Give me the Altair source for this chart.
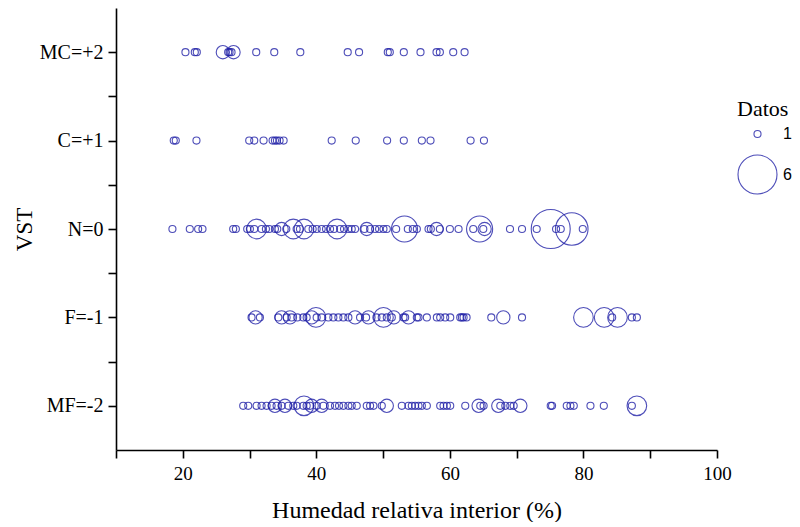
import altair as alt
import pandas as pd

# Category labels and their numeric codes on the y axis
categories = ["MC=+2", "C=+1", "N=0", "F=-1", "MF=-2"]
codes = [2, 1, 0, -1, -2]

# Humedad relativa interior (%) per VST class, and number of coincident data (bubble size)
mc_x = [20.4, 21.8, 22.1, 26.0, 26.8, 27.0, 27.3, 27.6, 31.0, 33.7, 37.6, 44.7, 46.4,
        50.7, 51.0, 53.1, 55.6, 58.0, 58.5, 60.5, 62.2]
mc_n = [1, 1, 1, 2, 1, 1, 1, 2, 1, 1, 1, 1, 1, 1, 1, 1, 1, 1, 1, 1, 1]

c_x = [18.65, 18.95, 22.05, 29.95, 30.7, 32.1, 33.45, 33.8, 34.1, 34.5, 35.1, 42.3,
       45.9, 50.6, 53.1, 55.8, 57.1, 63.1, 65.1]
c_n = [1] * 19

n_x = [18.45, 21.05, 22.3, 22.95, 27.55, 27.95, 29.65, 30.05, 30.7, 31.05, 31.8, 32.45,
       32.95, 33.8, 34.15, 34.8, 35.5, 36.55, 37.05, 37.55, 38.15, 38.8, 39.45, 40.05,
       40.8, 41.45, 42.05, 42.65, 43.1, 43.55, 44.15, 44.8, 45.3, 45.8, 47.2, 47.55,
       48.05, 48.8, 49.4, 50.05, 50.55, 51.95, 53.2, 53.7, 54.45, 55.05, 56.8, 57.15,
       58.0, 58.5, 60.0, 61.3, 63.5, 64.45, 65.0, 65.2, 69.0, 70.8, 73.0, 75.1, 75.9,
       76.6, 78.25, 79.9]
n_n = [1, 1, 1, 1, 1, 1, 1, 1, 1, 3, 1, 1,
       1, 1, 1, 2, 1, 3, 1, 1, 3, 1, 1, 1,
       1, 1, 1, 1, 3, 1, 1, 1, 1, 1, 1, 2,
       1, 1, 1, 1, 1, 1, 4, 1, 1, 1, 1, 1,
       2, 1, 1, 1, 1, 4, 1, 2, 1, 1, 1, 6, 1,
       1, 5, 1]

f_x = [30.3, 30.9, 31.55, 34.3, 34.8, 35.55, 36.05, 36.3, 37.15, 38.05, 38.55, 39.3,
       39.95, 40.05, 40.8, 41.8, 42.55, 43.3, 44.05, 44.8, 45.8, 46.55, 47.45, 47.8,
       49.0, 49.8, 50.05, 50.55, 51.3, 51.6, 53.05, 53.3, 53.8, 55.05, 55.3, 56.55,
       58.05, 58.55, 59.3, 60.05, 61.55, 61.8, 62.05, 62.5, 66.2, 68.0, 70.8, 80.0,
       83.1, 84.3, 85.1, 87.25, 88.0]
f_n = [1, 2, 1, 1, 2, 1, 2, 1, 1, 1, 1, 2,
       3, 1, 1, 1, 1, 1, 1, 1, 2, 1, 1, 2,
       1, 1, 3, 1, 1, 2, 1, 1, 2, 1, 1, 1,
       1, 1, 1, 1, 1, 1, 1, 1, 1, 2, 1, 3,
       3, 1, 3, 1, 1]

mf_x = [29.05, 29.8, 31.05, 31.8, 32.55, 33.3, 33.8, 34.05, 34.8, 35.3, 35.8, 36.55,
        37.05, 38.05, 38.15, 38.55, 39.05, 39.3, 40.05, 40.8, 41.05, 42.05, 42.8, 43.4,
        44.05, 44.8, 45.3, 46.05, 47.55, 48.05, 48.55, 49.8, 50.55, 52.8, 53.8, 54.3,
        54.8, 55.3, 55.8, 56.55, 58.55, 59.05, 59.55, 60.05, 62.3, 64.3, 64.55, 65.05,
        67.25, 67.55, 68.3, 69.05, 69.55, 70.55, 75.1, 75.3, 77.5, 78.05, 78.55, 81.05,
        83.05, 87.25, 88.0]
mf_n = [1, 1, 1, 1, 1, 1, 2, 1, 1, 2, 1, 1,
        1, 1, 3, 1, 1, 2, 1, 2, 1, 1, 1, 1,
        1, 1, 1, 1, 1, 1, 1, 1, 2, 1, 1, 1,
        1, 1, 1, 1, 1, 1, 1, 1, 1, 2, 1, 1,
        2, 1, 1, 1, 1, 2, 1, 1, 1, 1, 1, 1,
        1, 1, 3]

rows = [(2, mc_x, mc_n), (1, c_x, c_n), (0, n_x, n_n), (-1, f_x, f_n), (-2, mf_x, mf_n)]
records = []
for code, xs, ns in rows:
    for x, n in zip(xs, ns):
        records.append({"hr": x, "vst": code, "datos": n})
df = pd.DataFrame(records)

serif = "Liberation Serif"
label_map = ", ".join(f"'{c}': '{l}'" for c, l in zip(codes, categories))
y_label_expr = "({" + label_map + "})[datum.value] || ''"

chart = alt.Chart(df).mark_point(
    shape="circle", filled=False, color="#2222a8", strokeWidth=1.1, opacity=0.8
).encode(
    x=alt.X("hr:Q", title="Humedad relativa interior (%)",
            scale=alt.Scale(domain=[10, 100], nice=False, zero=False),
            axis=alt.Axis(values=list(range(10, 101, 10)),
                          labelExpr="datum.value % 20 == 0 ? datum.label : ''",
                          labelFlush=False, grid=False, tickSize=8,
                          labelFont=serif, labelFontSize=19, labelPadding=6,
                          titleFont=serif, titleFontSize=24, titleFontWeight="normal",
                          titlePadding=15, domainColor="black", domainWidth=1.6,
                          tickColor="black", tickWidth=1.6, labelColor="black",
                          titleColor="black")),
    y=alt.Y("vst:Q", title="VST",
            scale=alt.Scale(domain=[-2.5, 2.5], nice=False, zero=False),
            axis=alt.Axis(values=[-2, -1.5, -1, -0.5, 0, 0.5, 1, 1.5, 2],
                          labelExpr=y_label_expr,
                          labelFlush=False, grid=False, tickSize=8,
                          labelFont=serif, labelFontSize=20, labelPadding=5,
                          titleFont=serif, titleFontSize=23, titleFontWeight="normal",
                          titlePadding=3, domainColor="black", domainWidth=1.6,
                          tickColor="black", tickWidth=1.6, labelColor="black",
                          titleColor="black")),
    size=alt.Size("datos:Q",
                  scale=alt.Scale(type="pow", exponent=2, domain=[1, 6],
                                  range=[50, 1521], zero=False),
                  legend=alt.Legend(title="Datos", values=[1, 6], orient="none",
                                    legendX=621, legendY=91,
                                    titleFont=serif, titleFontSize=22,
                                    titleFontWeight="normal", titleColor="black",
                                    labelFont="Liberation Sans", labelFontSize=16,
                                    labelOffset=5,
                                    labelColor="black", rowPadding=10,
                                    symbolStrokeColor="#2222a8",
                                    symbolStrokeWidth=1.1)),
).properties(
    width=601, height=442, padding={"left": 5, "top": 0, "right": 0, "bottom": 0}
).configure_view(stroke=None)

chart.save("out.html", embed_options={"renderer": "svg", "actions": False})
